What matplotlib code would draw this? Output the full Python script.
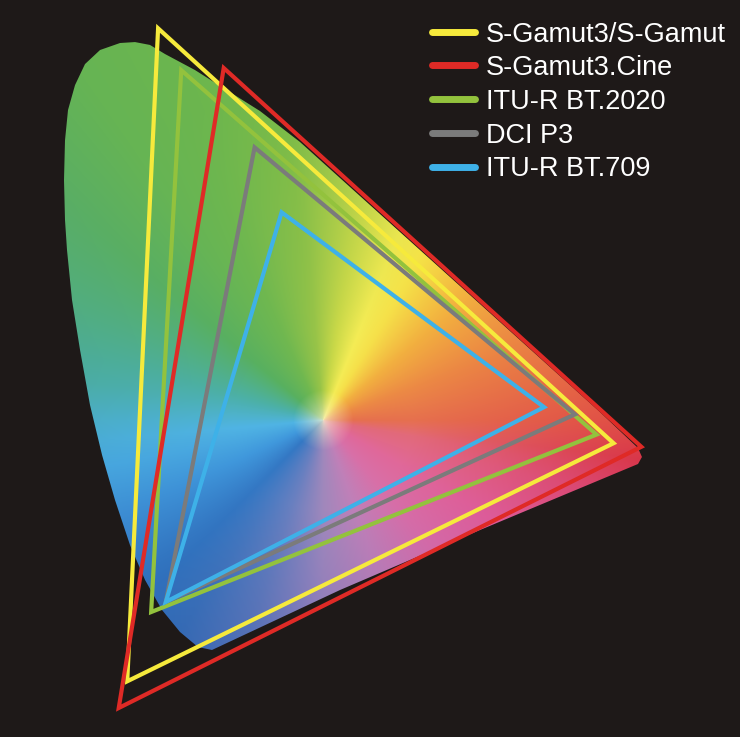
import matplotlib
matplotlib.use("Agg")
import matplotlib.pyplot as plt
import numpy as np
from matplotlib.patches import Polygon
from matplotlib.colors import to_rgb

BG = "#1e1918"
W, H = 740, 737

gamut_names = ["S-Gamut3/S-Gamut", "S-Gamut3.Cine", "ITU-R BT.2020", "DCI P3", "ITU-R BT.709"]
gamut_colors = ["#f6ea3c", "#df2a26", "#93c23d", "#7b7b7b", "#3eb1e8"]

# primaries R, G, B as CIE (x, y)
sgamut3_xy = [(0.730, 0.280), (0.140, 0.855), (0.100, -0.050)]
sgamut3cine_xy = [(0.766, 0.275), (0.225, 0.800), (0.089, -0.087)]
bt2020_xy = [(0.708, 0.292), (0.170, 0.797), (0.131, 0.046)]
p3_xy = [(0.680, 0.320), (0.265, 0.690), (0.150, 0.060)]
bt709_xy = [(0.640, 0.330), (0.300, 0.600), (0.150, 0.060)]

# outline of the coloured horseshoe
locus_x = [0.149, 0.1295, 0.1101, 0.0907, 0.0648, 0.0453, 0.0324, 0.0233, 0.0194, 0.0181,
           0.0194, 0.0220, 0.0285, 0.0389, 0.0518, 0.0674, 0.0842, 0.1036, 0.1231, 0.1451,
           0.1684, 0.1917, 0.2098, 0.3756, 0.5570, 0.7617, 0.7668, 0.7617, 0.7124, 0.5829,
           0.4534, 0.3238, 0.2720, 0.2267, 0.1878]
locus_y = [0.8194, 0.8320, 0.8360, 0.8347, 0.8250, 0.8055, 0.7764, 0.7418, 0.6998, 0.6448,
           0.5893, 0.5477, 0.4784, 0.4091, 0.3329, 0.2636, 0.2012, 0.1389, 0.0904, 0.0488,
           0.0183, -0.0025, -0.0066, 0.0765, 0.1597, 0.2512, 0.2609, 0.2733, 0.3232, 0.4480,
           0.5727, 0.6975, 0.7404, 0.7709, 0.7972]

# conic colour wheel: angle (deg, counter-clockwise from +x) -> colour,
# one ring close to the white point and one near the edge
inner_angles = [0, 20, 40, 58, 68, 82, 95, 115, 140, 165, 185, 205, 225, 250, 270, 290,
                310, 330, 350, 360]
inner_colors = ["#e6704e", "#ec8a45", "#f2b040", "#f6e04a", "#f4ec55", "#c8d848", "#98c448",
                "#70b850", "#58b060", "#4cb0a8", "#50b4e4", "#4098dc", "#3478c4", "#6a80c0",
                "#a088bc", "#c080b8", "#d870a8", "#e0689a", "#e26a7a", "#e6704e"]
outer_angles = [0, 15, 30, 45, 60, 70, 85, 97, 111, 125, 139, 155, 171, 180, 192, 205,
                221, 236, 251, 268, 288, 312, 330, 345, 353, 360]
outer_colors = ["#e04a44", "#e66a42", "#ee9040", "#f4b83c", "#f2e442", "#d8dc48", "#a0c848",
                "#78ba48", "#6cb64e", "#66b454", "#5aae64", "#52ac7c", "#4aaa9a", "#48aac0",
                "#44a2dc", "#3a84cc", "#2e6cb8", "#2a62ae", "#4466b0", "#7a70b8", "#a070b4",
                "#c85aa8", "#d84a98", "#d83c70", "#d83448", "#e04a44"]
white_point = (0.354, 0.312)

x0, x1 = -0.0648, 0.8938
y0, y1 = -0.1272, 0.8943

fig = plt.figure(figsize=(W / 100, H / 100), dpi=100, facecolor=BG)
ax = fig.add_axes([0, 0, 1, 1])
ax.set_facecolor(BG)


def wheel(ang, angles, colors):
    stops = np.array([to_rgb(c) for c in colors])
    return np.stack([np.interp(ang, angles, stops[:, k]) for k in range(3)], axis=-1)


# gradient fill
gx = np.linspace(x0, x1, W)
gy = np.linspace(y1, y0, H)
X, Y = np.meshgrid(gx, gy)
dx = (X - white_point[0]) * W / (x1 - x0)
dy = (Y - white_point[1]) * H / (y1 - y0)
ang = np.degrees(np.arctan2(dy, dx)) % 360
r = np.hypot(dx, dy)
s = np.clip((r - 90) / 240, 0, 1)[..., None]
rgb = wheel(ang, inner_angles, inner_colors) * (1 - s) + wheel(ang, outer_angles, outer_colors) * s
t = (np.clip(r / 30, 0, 1) ** 0.7)[..., None]
rgb = np.array(to_rgb("#f6efc8")) * (1 - t) * 0.85 + rgb * (t + 0.15 * (1 - t))

im = ax.imshow(rgb, extent=(x0, x1, y0, y1), origin="upper", interpolation="bilinear",
               aspect="auto")
outline = Polygon(np.column_stack([locus_x, locus_y]), closed=True, fc="none", ec="none")
ax.add_patch(outline)
im.set_clip_path(outline)

gamuts = {
    "S-Gamut3/S-Gamut": sgamut3_xy,
    "S-Gamut3.Cine": sgamut3cine_xy,
    "ITU-R BT.2020": bt2020_xy,
    "DCI P3": p3_xy,
    "ITU-R BT.709": bt709_xy,
}
color_of = dict(zip(gamut_names, gamut_colors))
for name in ["S-Gamut3/S-Gamut", "ITU-R BT.2020", "S-Gamut3.Cine", "DCI P3", "ITU-R BT.709"]:
    tri = Polygon(gamuts[name], closed=True, fill=False, ec=color_of[name], lw=3,
                  joinstyle="miter")
    ax.add_patch(tri)

# legend
for i, (name, col) in enumerate(zip(gamut_names, gamut_colors)):
    yy = 1 - (31.7 + 33.7 * i) / H
    ax.plot([432 / W, 475 / W], [yy, yy], transform=ax.transAxes, color=col, lw=5,
            solid_capstyle="round")
    ax.text(486 / W, yy, name, transform=ax.transAxes, color="white", fontsize=19.5,
            va="center_baseline", ha="left", family="Liberation Sans")

ax.set_xlim(x0, x1)
ax.set_ylim(y0, y1)
ax.axis("off")
fig.savefig("out.png", dpi=100, facecolor=BG)
